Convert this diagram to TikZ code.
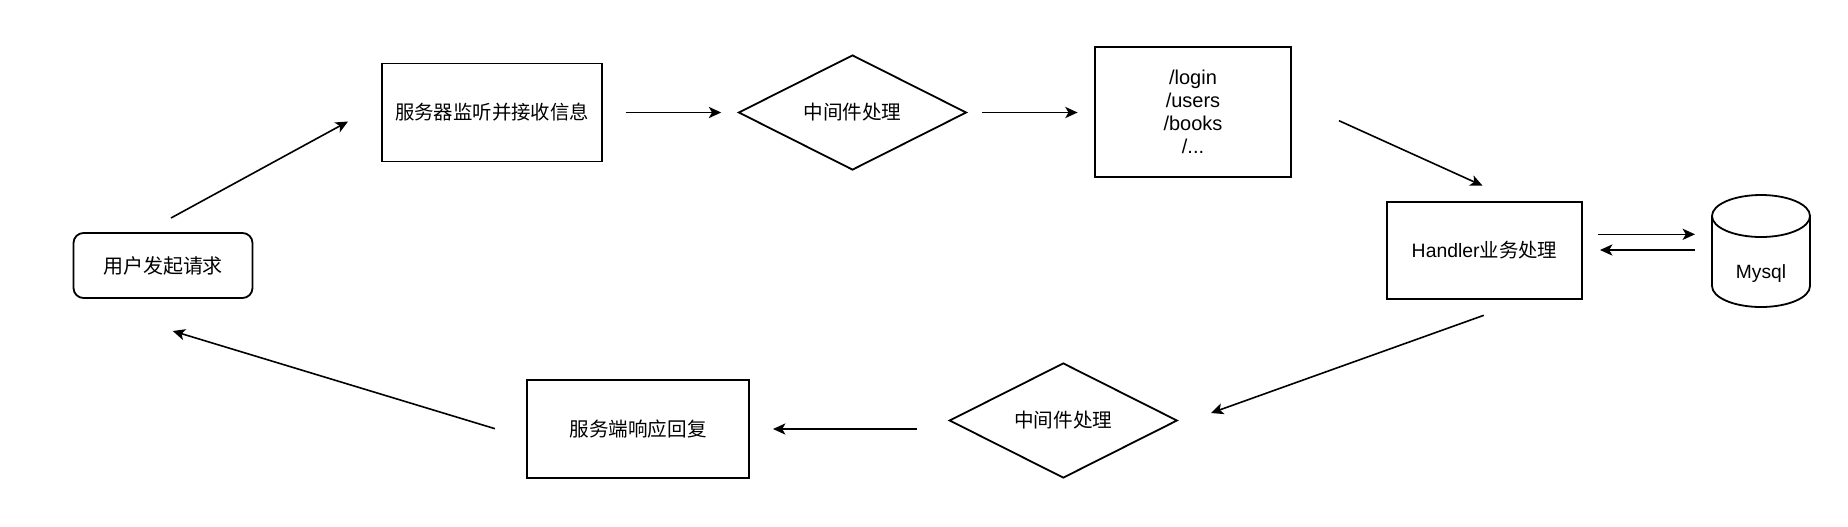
\documentclass[tikz,border=0pt]{standalone}
\usepackage{fontspec}
\setmainfont{Liberation Sans}
\newfontfamily\cjk{Noto Sans CJK SC}
\usetikzlibrary{shapes.geometric,arrows.meta,calc}
\tikzset{
  boxst/.style={draw, line width=0.9pt, inner sep=0pt, align=center},
  diam/.style={draw, diamond, aspect=2, line width=0.9pt, inner sep=0pt,
               minimum width=114pt, minimum height=57.5pt},
  arr/.style={line width=0.8pt, -{Stealth[length=6.2pt,width=5.6pt,inset=1.6pt]}},
  cjkfs/.style={font=\fontsize{#1}{#1}\selectfont\cjk},
}
\begin{document}
\begin{tikzpicture}[x=0.5pt,y=-0.5pt]
\useasboundingbox (0,0) rectangle (1848,526);
% nodes
\node[boxst, rounded corners=5pt, minimum width=89.5pt, minimum height=32.5pt, cjkfs=10pt] (user) at (163,265.5) {用户发起请求};
\node[boxst, minimum width=110pt, minimum height=49pt, cjkfs=9.7pt] (srv) at (492,112.5) {服务器监听并接收信息};
\node[diam, cjkfs=9.8pt] (mw1) at (852.5,112.5) {中间件处理};
\node[boxst, minimum width=97.85pt, minimum height=65pt, font=\fontsize{10pt}{11.5pt}\selectfont] (routes) at (1193,112.3) {/login\\/users\\/books\\/...};
\node[boxst, minimum width=97.5pt, minimum height=48.8pt, font=\fontsize{9.7pt}{11pt}\selectfont] (handler) at (1484.5,250.5) {Handler{\cjk 业务处理}};
\node[inner sep=0pt, font=\fontsize{9.6pt}{11pt}\selectfont] (db) at (1761,273.4) {Mysql};
\node[diam, cjkfs=9.8pt] (mw2) at (1063.3,420.5) {中间件处理};
\node[boxst, minimum width=110.8pt, minimum height=49.2pt, cjkfs=9.8pt] (resp) at (638,429) {服务端响应回复};
% cylinder outline around db
\draw[line width=0.9pt] ($(db)+(-49,-57.4)$) -- ($(db)+(-49,12.6)$)
  arc[start angle=180, end angle=360, x radius=24.5pt, y radius=10.5pt]
  -- ($(db)+(49,-57.4)$);
\draw[line width=0.9pt] ($(db)+(0,-57.4)$) ellipse[x radius=24.5pt, y radius=10.5pt];
% connector end points
\coordinate (a1s) at (171,218);     \coordinate (a1e) at (348,121.5);
\coordinate (a4s) at (1339,120.7);  \coordinate (a4e) at (1482.6,185.7);
\coordinate (a5s) at (1598.3,234.3);\coordinate (a5e) at (1695,234.3);
\coordinate (a6s) at (1695,250);    \coordinate (a6e) at (1600,250);
\coordinate (a7s) at (1483.8,315.3);\coordinate (a7e) at (1211,413);
\coordinate (a8s) at (917,429);     \coordinate (a8e) at (773,429);
\coordinate (a9s) at (495,428.7);   \coordinate (a9e) at (172.7,331);
% connectors
\draw[arr] (a1s) -- (a1e);
\draw[arr, shorten <=11.3pt, shorten >=8.2pt] (srv.east) -- (mw1.west);
\draw[arr, shorten <=7.5pt, shorten >=8.3pt] (mw1.east) -- (mw1.east -| routes.west);
\draw[arr] (a4s) -- (a4e);
\draw[arr] (a5s) -- (a5e);
\draw[arr] (a6s) -- (a6e);
\draw[arr] (a7s) -- (a7e);
\draw[arr] (a8s) -- (a8e);
\draw[arr] (a9s) -- (a9e);
\end{tikzpicture}
\end{document}
